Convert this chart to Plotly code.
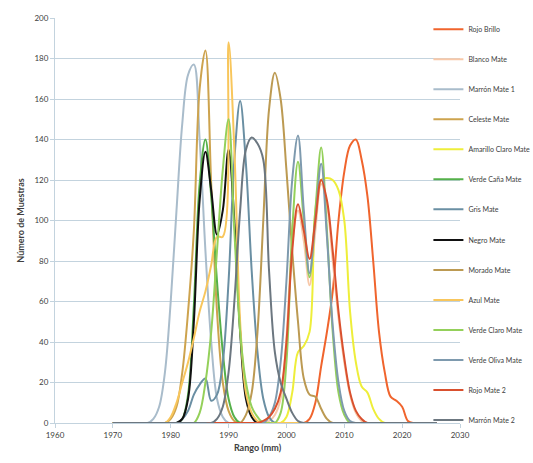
import plotly.graph_objects as go

years = list(range(1970, 2027))

series_names = [
    "Rojo Brillo", "Blanco Mate", "Marrón Mate 1", "Celeste Mate",
    "Amarillo Claro Mate", "Verde Caña Mate", "Gris Mate", "Negro Mate",
    "Morado Mate", "Azul Mate", "Verde Claro Mate", "Verde Oliva Mate",
    "Rojo Mate 2", "Marrón Mate 2",
]

rojo_brillo = [0, 0, 0, 0, 0, 0, 0, 0, 0, 0,
               0, 0, 0, 0, 0, 0, 0, 0, 0, 0,
               0, 0, 0, 0, 0, 0, 0, 0, 0, 0,
               0, 0, 0, 0, 2, 10, 28, 45, 65, 100,
               124, 137, 140, 130, 112, 80, 45, 25, 13, 11,
               8, 1, 0, 0, 0, 0, 0]
blanco_mate = [0, 0, 0, 0, 0, 0, 0, 0, 0, 0,
               0, 0, 0, 0, 0, 0, 0, 0, 0, 0,
               0, 0, 0, 0, 0, 0, 0, 1, 4, 12,
               42, 88, 105, 90, 68, 95, 118, 108, 80, 52,
               30, 14, 5, 1, 0, 0, 0, 0, 0, 0,
               0, 0, 0, 0, 0, 0, 0]
marron_mate_1 = [0, 0, 0, 0, 0, 0, 0, 2, 8, 25,
                 60, 105, 148, 172, 177, 140, 85, 40, 12, 3,
                 0, 0, 0, 0, 0, 0, 0, 0, 0, 0,
                 0, 0, 0, 0, 0, 0, 0, 0, 0, 0,
                 0, 0, 0, 0, 0, 0, 0, 0, 0, 0,
                 0, 0, 0, 0, 0, 0, 0]
celeste_mate = [0, 0, 0, 0, 0, 0, 0, 0, 0, 0,
                2, 8, 25, 55, 95, 165, 184, 118, 55, 20,
                6, 1, 0, 0, 0, 0, 0, 0, 0, 0,
                0, 0, 0, 0, 0, 0, 0, 0, 0, 0,
                0, 0, 0, 0, 0, 0, 0, 0, 0, 0,
                0, 0, 0, 0, 0, 0, 0]
amarillo_claro_mate = [0, 0, 0, 0, 0, 0, 0, 0, 0, 0,
                       0, 0, 0, 0, 0, 0, 0, 0, 0, 0,
                       0, 0, 0, 0, 0, 0, 0, 0, 0, 0,
                       3, 15, 35, 38, 45, 105, 120, 121, 120, 115,
                       100, 55, 30, 18, 15, 7, 2, 0, 0, 0,
                       0, 0, 0, 0, 0, 0, 0]
verde_cana_mate = [0, 0, 0, 0, 0, 0, 0, 0, 0, 0,
                   0, 0, 2, 14, 58, 118, 140, 112, 70, 35,
                   12, 3, 0, 0, 0, 0, 0, 0, 0, 0,
                   0, 0, 0, 0, 0, 0, 0, 0, 0, 0,
                   0, 0, 0, 0, 0, 0, 0, 0, 0, 0,
                   0, 0, 0, 0, 0, 0, 0]
gris_mate = [0, 0, 0, 0, 0, 0, 0, 0, 0, 0,
             0, 0, 2, 6, 14, 19, 22, 11, 14, 30,
             70, 130, 159, 128, 75, 35, 12, 3, 0, 0,
             0, 0, 0, 0, 0, 0, 0, 0, 0, 0,
             0, 0, 0, 0, 0, 0, 0, 0, 0, 0,
             0, 0, 0, 0, 0, 0, 0]
negro_mate = [0, 0, 0, 0, 0, 0, 0, 0, 0, 0,
              0, 0, 2, 12, 50, 110, 134, 115, 93, 105,
              135, 100, 45, 12, 3, 0, 0, 0, 0, 0,
              0, 0, 0, 0, 0, 0, 0, 0, 0, 0,
              0, 0, 0, 0, 0, 0, 0, 0, 0, 0,
              0, 0, 0, 0, 0, 0, 0]
morado_mate = [0, 0, 0, 0, 0, 0, 0, 0, 0, 0,
               0, 0, 0, 0, 0, 0, 0, 0, 0, 0,
               0, 0, 0, 4, 15, 45, 100, 155, 173, 160,
               125, 85, 50, 22, 14, 13, 7, 2, 0, 0,
               0, 0, 0, 0, 0, 0, 0, 0, 0, 0,
               0, 0, 0, 0, 0, 0, 0]
azul_mate = [0, 0, 0, 0, 0, 0, 0, 0, 0, 0,
             3, 10, 20, 30, 42, 55, 65, 78, 92, 92,
             188, 135, 50, 15, 5, 1, 0, 0, 0, 0,
             0, 0, 0, 0, 0, 0, 0, 0, 0, 0,
             0, 0, 0, 0, 0, 0, 0, 0, 0, 0,
             0, 0, 0, 0, 0, 0, 0]
verde_claro_mate = [0, 0, 0, 0, 0, 0, 0, 0, 0, 0,
                    0, 0, 0, 0, 0, 5, 20, 45, 85, 125,
                    150, 95, 45, 20, 8, 3, 0, 0, 0, 5,
                    30, 95, 129, 100, 72, 105, 136, 95, 45, 15,
                    4, 0, 0, 0, 0, 0, 0, 0, 0, 0,
                    0, 0, 0, 0, 0, 0, 0]
verde_oliva_mate = [0, 0, 0, 0, 0, 0, 0, 0, 0, 0,
                    0, 0, 0, 0, 0, 0, 0, 0, 0, 0,
                    0, 0, 0, 0, 0, 0, 0, 3, 10, 30,
                    70, 120, 142, 105, 74, 100, 128, 92, 48, 20,
                    6, 1, 0, 0, 0, 0, 0, 0, 0, 0,
                    0, 0, 0, 0, 0, 0, 0]
rojo_mate_2 = [0, 0, 0, 0, 0, 0, 0, 0, 0, 0,
               0, 0, 0, 0, 0, 0, 0, 0, 0, 0,
               0, 0, 0, 0, 0, 0, 1, 3, 7, 15,
               40, 85, 108, 95, 81, 100, 120, 110, 85, 55,
               32, 15, 6, 2, 0, 0, 0, 0, 0, 0,
               0, 0, 0, 0, 0, 0, 0]
marron_mate_2 = [0, 0, 0, 0, 0, 0, 0, 0, 0, 0,
                 0, 0, 0, 0, 0, 0, 0, 0, 2, 8,
                 25, 60, 105, 135, 141, 138, 130, 75, 35, 20,
                 12, 5, 1, 0, 0, 0, 0, 0, 0, 0,
                 0, 0, 0, 0, 0, 0, 0, 0, 0, 0,
                 0, 0, 0, 0, 0, 0, 0]

series_values = [
    rojo_brillo, blanco_mate, marron_mate_1, celeste_mate,
    amarillo_claro_mate, verde_cana_mate, gris_mate, negro_mate,
    morado_mate, azul_mate, verde_claro_mate, verde_oliva_mate,
    rojo_mate_2, marron_mate_2,
]

colors = [
    "#F0642D", "#F8C8A8", "#A9BCCB", "#CDA34E",
    "#EEEE3A", "#55B04A", "#6A8FA3", "#111111",
    "#BC9A52", "#F8C65C", "#94D05A", "#7E9AAE",
    "#D9502E", "#6C7780",
]

x_ticks = [1960, 1970, 1980, 1990, 2000, 2010, 2020, 2030]
y_ticks = [0, 20, 40, 60, 80, 100, 120, 140, 160, 180, 200]

fig = go.Figure()
for i, (name, vals, col) in enumerate(zip(series_names, series_values, colors)):
    fig.add_trace(go.Scatter(
        x=years, y=vals, name=name, mode="lines",
        line=dict(color=col, width=2, shape="spline", smoothing=1.0),
        legendgroup="g%d" % i,
        legend="legend" if i < 7 else "legend2",
    ))

grid_col = "#C3D3DE"
legend_common = dict(
    x=0.922, xanchor="left", yref="container", yanchor="top",
    bgcolor="rgba(0,0,0,0)", font=dict(size=7, color="#404040"),
    tracegroupgap=11, traceorder="grouped", itemwidth=30,
)
fig.update_layout(
    width=533, height=463,
    margin=dict(l=55, r=73, t=18, b=40, autoexpand=False),
    paper_bgcolor="white", plot_bgcolor="white",
    font=dict(family="Lato, Open Sans, sans-serif", color="#404040"),
    showlegend=True,
    legend=dict(y=0.968, **legend_common),
    legend2=dict(y=0.513, **legend_common),
    xaxis=dict(
        range=[1960, 2030], tickvals=x_ticks, ticktext=[str(t) for t in x_ticks],
        showgrid=False, showline=True, linecolor=grid_col, linewidth=1,
        ticks="outside", ticklen=4, tickcolor=grid_col,
        tickfont=dict(size=8, color="#404040"),
        title=dict(text="<b>Rango (mm)</b>", font=dict(size=9, color="#404040"), standoff=6),
        zeroline=False,
    ),
    yaxis=dict(
        range=[0, 200], tickvals=y_ticks,
        showgrid=True, gridcolor=grid_col, gridwidth=1,
        showline=True, linecolor=grid_col, linewidth=1,
        ticks="outside", ticklen=4, tickcolor=grid_col,
        tickfont=dict(size=8, color="#404040"),
        title=dict(text="<b>Número de Muestras</b>", font=dict(size=9, color="#404040"), standoff=8),
        zeroline=False,
    ),
)

fig.write_html("out.html")
